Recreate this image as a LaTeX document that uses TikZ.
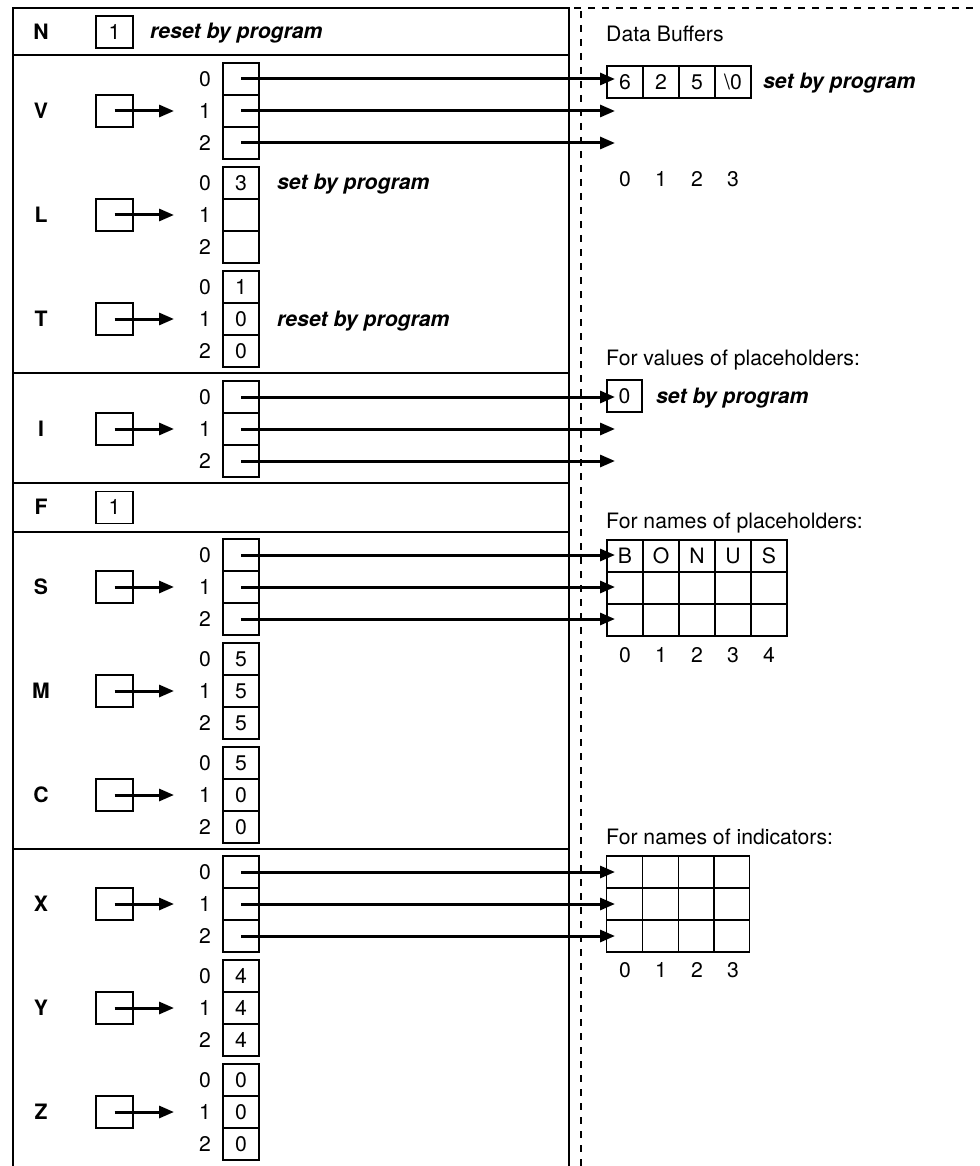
\documentclass[tikz,border=0pt]{standalone}
\usepackage{fontspec}
\setmainfont{TeX Gyre Heros}
\usetikzlibrary{arrows.meta}
\newcommand\dsize{\fontsize{21.2}{25}\selectfont}
\tikzset{
  frame/.style={line width=1.8pt},
  sepline/.style={line width=1.7pt,dash pattern=on 7pt off 7pt},
  cell/.style={draw,line width=1.8pt,minimum width=36pt,minimum height=32pt,inner sep=0pt,text height=14.5pt,text depth=0pt},
  pbox/.style={draw,line width=1.8pt,minimum width=37pt,minimum height=32pt,inner sep=0pt,text height=14.5pt,text depth=0pt},
  lab/.style={font=\dsize\bfseries,inner sep=0pt,text height=14.5pt,text depth=0pt},
  idx/.style={inner sep=0pt,text height=14.5pt,text depth=0pt},
  note/.style={font=\dsize\bfseries\itshape,anchor=base west,inner sep=0pt},
  head/.style={anchor=base west,inner sep=0pt},
  ptr/.style={line width=3pt,-{Triangle[length=15pt,width=12pt]}},
}
% name, label, top, v0, v1, v2
\newcommand\arrgrp[6]{%
  \pgfmathsetmacro\gc{#3+48}%
  \node[lab] (#1-lab) at (41,\gc) {#2};
  \node[pbox] (#1-box) at (114.5,\gc) {};
  \node[idx] (#1-i0) at (205,#3+16) {0};
  \node[idx] (#1-i1) at (205,#3+48) {1};
  \node[idx] (#1-i2) at (205,#3+80) {2};
  \node[cell] (#1-0) at (241,#3+16) {#4};
  \node[cell] (#1-1) at (241,#3+48) {#5};
  \node[cell] (#1-2) at (241,#3+80) {#6};
  \coordinate (#1-tip) at (174,\gc);
  \draw[ptr] (#1-box.center) -- (#1-tip);
}
% pointer arrows from the cells of a group
\newcommand\ptrs[2]{%
  \coordinate (#1-t0) at (615,#2+16);
  \coordinate (#1-t1) at (615,#2+48);
  \coordinate (#1-t2) at (615,#2+80);
  \draw[ptr] (#1-0.center) -- (#1-t0);
  \draw[ptr] (#1-1.center) -- (#1-t1);
  \draw[ptr] (#1-2.center) -- (#1-t2);
}
\begin{document}
\begin{tikzpicture}[x=1pt,y=-1pt,font=\dsize]
\useasboundingbox (0,0) rectangle (979,1166);
% frame
\draw[frame] (13,1166) -- (13,8) -- (569,8) -- (569,1166);
\foreach \yy in {55,373,483,532,849} \draw[frame] (13,\yy) -- (569,\yy);
% dashed separator
\draw[sepline] (574,8) -- (979,8);
\draw[sepline] (581,11) -- (581,1166);
% N
\node[lab] (N-lab) at (41,32) {N};
\node[pbox] (N-box) at (114.5,32) {1};
\node[note] (N-note) at (150,39) {reset by program};
% groups
\arrgrp{V}{V}{63}{}{}{}
\arrgrp{L}{L}{167}{3}{}{}
\arrgrp{T}{T}{271}{1}{0}{0}
\node[note] (L-note) at (277,190) {set by program};
\node[note] (T-note) at (277,326) {reset by program};
\arrgrp{I}{I}{381}{}{}{}
% F
\node[lab] (F-lab) at (41,507.5) {F};
\node[pbox] (F-box) at (114.5,507.5) {1};
\arrgrp{S}{S}{539}{}{}{}
\arrgrp{M}{M}{643}{5}{5}{5}
\arrgrp{C}{C}{747}{5}{0}{0}
\arrgrp{X}{X}{856}{}{}{}
\arrgrp{Y}{Y}{960}{4}{4}{4}
\arrgrp{Z}{Z}{1064}{0}{0}{0}
% right side: data buffers
\node[head] (h-buf) at (606,42) {Data Buffers};
\node[cell] (b0) at (625,82) {6};
\node[cell] (b1) at (661,82) {2};
\node[cell] (b2) at (697,82) {5};
\node[cell] (b3) at (733,82) {\textbackslash 0};
\node[note] (b-note) at (763,89) {set by program};
\foreach \c/\xx in {0/625,1/661,2/697,3/733} \node[idx] (bi\c) at (\xx,179) {\c};
% values of placeholders
\node[head] (h-val) at (606,365) {For values of placeholders:};
\node[cell,minimum width=35pt] (v0) at (624.5,396) {0};
\node[note] (v-note) at (656,403) {set by program};
% names of placeholders
\node[head] (h-pn) at (606,528) {For names of placeholders:};
\foreach \r/\yy in {0/556,1/588,2/620}
  \foreach \c/\xx in {0/625,1/661,2/697,3/733,4/769}
    \node[cell] (p\r\c) at (\xx,\yy) {};
\node at (p00) {B};
\node at (p01) {O};
\node at (p02) {N};
\node at (p03) {U};
\node at (p04) {S};
\foreach \c/\xx in {0/625,1/661,2/697,3/733,4/769} \node[idx] (pi\c) at (\xx,655) {\c};
% names of indicators
\node[head] (h-in) at (606,844) {For names of indicators:};
\foreach \r/\yy in {0/872,1/904,2/936}
  \foreach \c/\xx in {0/624.5,1/660.5,2/696.5,3/731.5}
    \node[cell] (q\r\c) at (\xx,\yy) {};
\foreach \c/\xx in {0/625,1/661,2/697,3/733} \node[idx] (qi\c) at (\xx,970) {\c};
% pointers
\ptrs{V}{63}
\ptrs{I}{381}
\ptrs{S}{539}
\ptrs{X}{856}
\end{tikzpicture}
\end{document}
